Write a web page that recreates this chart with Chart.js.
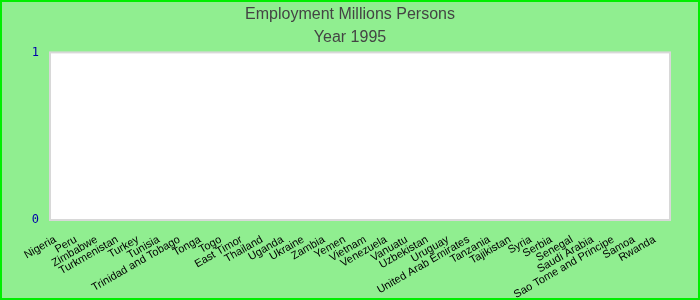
<!DOCTYPE html>
<html>
<head>
<meta charset="utf-8">
<script src="https://cdn.jsdelivr.net/npm/chart.js@4"></script>
<style>
  body { margin: 0; }
  #chart { display: block; }
</style>
</head>
<body>
<canvas id="chart" width="700" height="300"></canvas>
<script>
// countries on the x axis, in the order shown
const countries = ['Nigeria', 'Peru', 'Zimbabwe', 'Turkmenistan', 'Turkey', 'Tunisia',
    'Trinidad and Tobago', 'Tonga', 'Togo', 'East Timor', 'Thailand', 'Uganda', 'Ukraine',
    'Zambia', 'Yemen', 'Vietnam', 'Venezuela', 'Vanuatu', 'Uzbekistan', 'Uruguay',
    'United Arab Emirates', 'Tanzania', 'Tajikistan', 'Syria', 'Serbia', 'Senegal',
    'Saudi Arabia', 'Sao Tome and Principe', 'Samoa', 'Rwanda'];

// no values are drawn in the picture for 1995
const employment = countries.map(() => null);

const yTicks = [0, 1];

// green page with a bright border, white plot area with a thin grey frame
const backdrop = {
    id: 'backdrop',
    beforeDraw(chart) {
        const { ctx, width, height, chartArea: a } = chart;
        ctx.save();
        ctx.fillStyle = '#90ee90';
        ctx.fillRect(0, 0, width, height);
        ctx.strokeStyle = '#00ee00';
        ctx.lineWidth = 2;
        ctx.strokeRect(1, 1, width - 2, height - 2);
        ctx.fillStyle = '#ffffff';
        ctx.fillRect(a.left, a.top, a.right - a.left, a.bottom - a.top);
        ctx.strokeStyle = '#d8d8d8';
        ctx.strokeRect(a.left, a.top, a.right - a.left, a.bottom - a.top);
        ctx.restore();
    }
};

new Chart(document.getElementById('chart'), {
    type: 'bar',
    data: {
        labels: countries,
        datasets: [{
            label: 'Employment',
            data: employment,
            backgroundColor: '#3366cc'
        }]
    },
    options: {
        responsive: false,
        animation: false,
        // symmetric padding keeps the titles centred on the whole canvas
        layout: { padding: { left: 15, right: 15, top: 5, bottom: 0 } },
        plugins: {
            legend: { display: false },
            tooltip: { enabled: false },
            title: {
                display: true,
                text: 'Employment Millions Persons',
                color: '#444444',
                font: { family: 'Liberation Sans', size: 16, weight: 'normal' },
                padding: { top: 0, bottom: 4 }
            },
            subtitle: {
                display: true,
                text: 'Year 1995',
                color: '#444444',
                font: { family: 'Liberation Sans', size: 16, weight: 'normal' },
                padding: { top: 0, bottom: 5 }
            }
        },
        scales: {
            x: {
                grid: { display: false },
                border: { display: false },
                afterFit(scale) {
                    scale.height = 80;
                    scale.paddingLeft = 0;
                    scale.paddingRight = 30;
                },
                ticks: {
                    autoSkip: false,
                    minRotation: 30,
                    maxRotation: 30,
                    labelOffset: -5,
                    padding: 5,
                    color: '#000000',
                    font: { family: 'Liberation Sans', size: 11 }
                }
            },
            y: {
                min: 0,
                max: 1,
                grid: { display: false, drawTicks: false },
                border: { display: false },
                afterFit(scale) {
                    scale.width = 35;
                },
                afterBuildTicks(scale) {
                    scale.ticks = yTicks.map(v => ({ value: v }));
                },
                ticks: {
                    padding: 11,
                    color: '#0000aa',
                    font: { family: 'DejaVu Sans Mono', size: 12 }
                }
            }
        }
    },
    plugins: [backdrop]
});
</script>
</body>
</html>
